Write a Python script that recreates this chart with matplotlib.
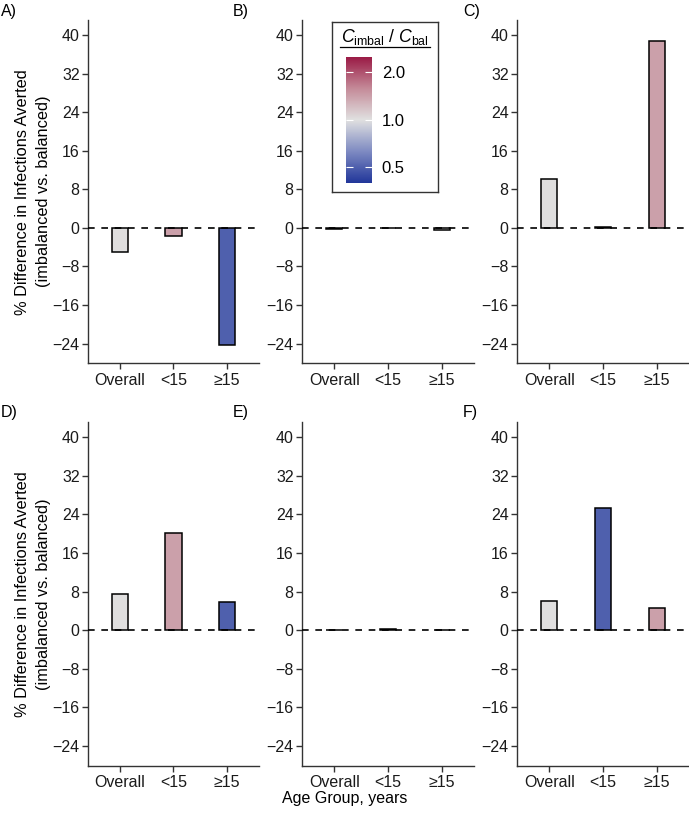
import matplotlib
matplotlib.use("Agg")
import matplotlib.pyplot as plt
import numpy as np
from matplotlib.colors import LinearSegmentedColormap, LogNorm
from matplotlib.cm import ScalarMappable
from matplotlib.lines import Line2D

plt.rcParams['font.family'] = ['Liberation Sans', 'DejaVu Sans']
plt.rcParams['mathtext.fontset'] = 'custom'
plt.rcParams['mathtext.rm'] = 'Liberation Sans'
plt.rcParams['mathtext.it'] = 'Liberation Sans:italic'

# ---------------- data ----------------
categories = ["Overall", "<15", "\u226515"]
panel_labels = ["A)", "B)", "C)", "D)", "E)", "F)"]

pct_A = [-5.0, -1.8, -24.3]
pct_B = [-0.15, -0.1, -0.55]
pct_C = [10.1, 0.2, 38.7]
pct_D = [7.4, 20.2, 5.75]
pct_E = [0.1, 0.3, 0.1]
pct_F = [6.1, 25.4, 4.6]

ratio_A = [1.0, 1.4, 0.5]
ratio_B = [1.0, 1.0, 1.0]
ratio_C = [1.0, 1.0, 1.4]
ratio_D = [1.0, 1.4, 0.5]
ratio_E = [1.0, 1.0, 1.0]
ratio_F = [1.0, 0.5, 1.4]

y_ticks = [-24, -16, -8, 0, 8, 16, 24, 32, 40]
cbar_ticks = [0.5, 1.0, 2.0]
cbar_ticklabels = ["0.5", "1.0", "2.0"]

pct_all = [pct_A, pct_B, pct_C, pct_D, pct_E, pct_F]
ratio_all = [ratio_A, ratio_B, ratio_C, ratio_D, ratio_E, ratio_F]

# ---------------- style ----------------
cmap = LinearSegmentedColormap.from_list(
    "imbal", ["#22379A", "#7F8BC2", "#E0E0E0", "#C48A98", "#9A1A45"])
norm = LogNorm(vmin=0.4, vmax=2.5)

W, H = 689, 818
fig = plt.figure(figsize=(W / 100, H / 100), dpi=100)

def fx(px):
    return px / W

def fy(py):
    return 1 - py / H

FS = 11.5
col_left = [88, 302, 517]
col_width = [171, 172, 172]
row_top = [20, 422.3]
row_bottom = [363.3, 765.7]
label_pos = [(1, 4), (233, 4), (463, 4), (1, 405), (233, 405), (463, 405)]

for i in range(6):
    r, c = divmod(i, 3)
    left = fx(col_left[c])
    width = col_width[c] / W
    bottom = fy(row_bottom[r])
    height = (row_bottom[r] - row_top[r]) / H
    ax = fig.add_axes([left, bottom, width, height])
    x = np.arange(1, len(categories) + 1)
    cols = [cmap(norm(v)) for v in ratio_all[i]]
    ax.bar(x, pct_all[i], width=0.3, color=cols, edgecolor="black",
           linewidth=1.1, zorder=2)
    ax.axhline(0, color="black", linestyle=(0, (4, 4)), linewidth=1.2, zorder=3)
    ax.set_xlim(0.4, 3.6)
    ax.set_ylim(-28.1, 43.1)
    ax.set_yticks(y_ticks)
    ax.set_yticklabels([str(t).replace("-", "\u2212") for t in y_ticks])
    ax.set_xticks(x)
    ax.set_xticklabels(categories)
    for s in ["top", "right"]:
        ax.spines[s].set_visible(False)
    for s in ["left", "bottom"]:
        ax.spines[s].set_color("#333333")
        ax.spines[s].set_linewidth(1.0)
    ax.tick_params(axis="both", length=4, width=1.0, color="#333333",
                   labelsize=FS, labelcolor="#1a1a1a", pad=2)
    ax.tick_params(axis="x", pad=3)
    lx, ly = label_pos[i]
    fig.text(fx(lx), fy(ly), panel_labels[i], ha="left", va="top", fontsize=FS)
    if c == 0:
        yc = (row_top[r] + row_bottom[r]) / 2
        fig.text(fx(23), fy(yc), "% Difference in Infections Averted",
                 rotation=90, ha="center", va="center", fontsize=FS + 0.3)
        fig.text(fx(44), fy(yc), "(imbalanced vs. balanced)",
                 rotation=90, ha="center", va="center", fontsize=FS + 0.3)

fig.text(fx(345), fy(798), "Age Group, years", ha="center", va="center",
         fontsize=FS)

# ---------------- legend box with colourbar ----------------
box = fig.add_axes([fx(331.7), fy(191.7), 106.3 / W, 169.7 / H])
box.set_xticks([])
box.set_yticks([])
for s in box.spines.values():
    s.set_color("#333333")
    s.set_linewidth(1.0)
box.set_zorder(5)
box.patch.set_facecolor("white")

fig.text(fx(385), fy(37), r"$\mathit{C}_{\mathrm{imbal}}$ / $\mathit{C}_{\mathrm{bal}}$",
         ha="center", va="center", fontsize=FS + 1.2, zorder=10)
fig.add_artist(Line2D([fx(340), fx(430)], [fy(46.5), fy(46.5)], color="black",
                      linewidth=0.9, zorder=10))

cax = fig.add_axes([fx(346), fy(182.7), 26 / W, 126 / H])
cax.set_zorder(6)
sm = ScalarMappable(norm=norm, cmap=cmap)
cb = fig.colorbar(sm, cax=cax)
cb.outline.set_visible(False)
cb.set_ticks(cbar_ticks)
cb.set_ticklabels(cbar_ticklabels)
cax.yaxis.set_minor_locator(matplotlib.ticker.NullLocator())
cax.tick_params(axis="y", direction="in", length=5, width=0.8, color="white",
                labelsize=FS + 0.5, left=True, right=True, pad=7)

fig.savefig("out.png", dpi=100)
